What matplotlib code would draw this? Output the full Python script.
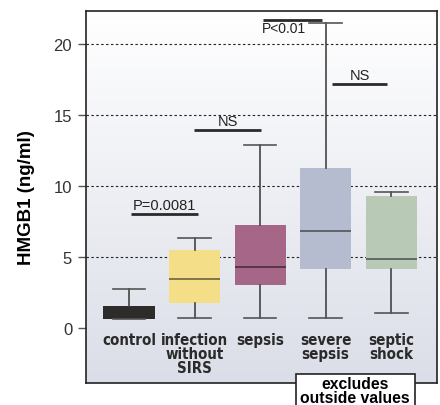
import numpy as np
import matplotlib
matplotlib.use("Agg")
from matplotlib import pyplot as plt
from matplotlib.patches import Rectangle

groups = ["control", "infection\nwithout\nSIRS", "sepsis", "severe\nsepsis", "septic\nshock"]
whisker_lo = [0.63, 0.73, 0.73, 0.73, 1.08]
q1 = [0.63, 1.78, 3.05, 4.18, 4.18]
median = [1.0, 3.45, 4.32, 6.81, 4.84]
q3 = [1.55, 5.5, 7.28, 11.27, 9.32]
whisker_hi = [2.75, 6.34, 12.84, 21.43, 9.6]
colors = ["#2e2c2b", "#f5de88", "#a66687", "#b5bcd0", "#b8c9b5"]

# significance brackets: (x from, x to, y, label)
sig = [(1.03, 2.05, 8.03, "P=0.0081"),
       (1.99, 3.02, 13.94, "NS"),
       (4.10, 4.94, 17.18, "NS"),
       (3.05, 3.95, 21.69, "P<0.01")]

plt.rcParams["font.family"] = ["Liberation Sans", "DejaVu Sans"]

fig = plt.figure(figsize=(4.4, 4.06), dpi=100)
ax = fig.add_axes([0.1955, 0.0542, 0.7977, 0.9162])
x0, x1, y0, y1 = 0.344, 5.70, -3.87, 22.3

# background gradient, white at top
grad = np.linspace(0, 1, 256).reshape(-1, 1)
cmap = matplotlib.colors.LinearSegmentedColormap.from_list("bg", ["#ffffff", "#dbdee8"])
ax.imshow(grad, aspect="auto", cmap=cmap, extent=[x0, x1, y0, y1],
          origin="upper", zorder=0)
ax.set_xlim(x0, x1)
ax.set_ylim(y0, y1)

for yv in [5, 10, 15, 20]:
    ax.axhline(yv, color="#222222", lw=0.8, ls=(0, (2.2, 2.2)), zorder=1)

stats = []
for i in range(len(groups)):
    stats.append(dict(whislo=whisker_lo[i], q1=q1[i], med=median[i],
                      q3=q3[i], whishi=whisker_hi[i], fliers=[]))
pos = np.arange(1, len(groups) + 1)
bp = ax.bxp(stats, positions=pos, widths=0.78, capwidths=0.5, patch_artist=True,
            showfliers=False,
            boxprops=dict(linewidth=0),
            whiskerprops=dict(color="#444444", lw=1.2),
            capprops=dict(color="#555555", lw=1.2),
            medianprops=dict(color="#000000", lw=1.2, alpha=0.55),
            zorder=2)
for patch, c in zip(bp["boxes"], colors):
    patch.set_facecolor(c)
    patch.set_edgecolor(c)
bp["medians"][0].set_alpha(0)

for a, b, y, lab in sig:
    ax.plot([a, b], [y, y], color="#2a2a2a", lw=2, solid_capstyle="butt", zorder=3)
    if lab == "P<0.01":
        ax.text(a - 0.02, y - 0.6, lab, ha="left", va="center", fontsize=10, color="#222222", zorder=3)
    else:
        ax.text((a + b) / 2, y + 0.6, lab, ha="center", va="center", fontsize=10.5, color="#222222", zorder=3)

for p, g in zip(pos, groups):
    ax.text(p, -0.3, g, ha="center", va="top", fontsize=10.8, fontweight="bold",
            family="DejaVu Sans", fontstretch="condensed", color="#2a2a2a",
            linespacing=0.92, zorder=3)

ax.set_yticks([0, 5, 10, 15, 20])
ax.set_xticks([])
ax.tick_params(axis="y", direction="out", length=6, width=1, color="#555555",
               labelsize=12, labelcolor="#333333", pad=4)
for s in ax.spines.values():
    s.set_linewidth(1.2)
    s.set_color("#222222")
ax.set_ylabel("HMGB1 (ng/ml)", fontsize=13.5, fontweight="bold", labelpad=13)

# note box at bottom
fig.patches.append(Rectangle((296 / 440, -0.05), 119 / 440, 0.05 + (406 - 375) / 406,
                             transform=fig.transFigure, facecolor="white",
                             edgecolor="#222222", lw=1.2, zorder=5))
fig.text(355 / 440, 1 - 385 / 406, "excludes", ha="center", va="center",
         fontsize=11.3, fontweight="bold", zorder=6)
fig.text(355 / 440, 1 - 399 / 406, "outside values", ha="center", va="center",
         fontsize=11.3, fontweight="bold", zorder=6)

fig.savefig("out.png", dpi=100)
